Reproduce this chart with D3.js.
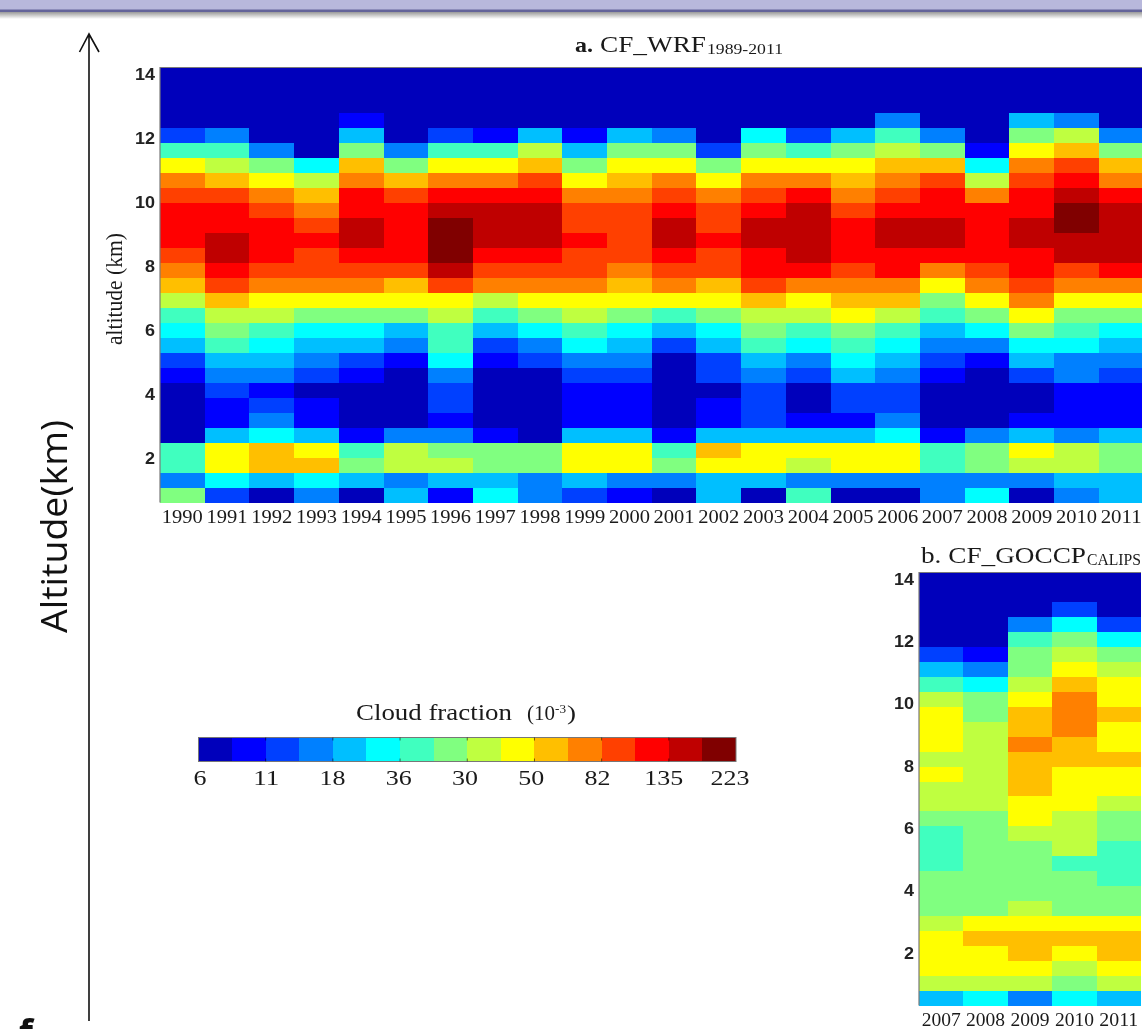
<!DOCTYPE html>
<html><head><meta charset="utf-8">
<style>
html,body{margin:0;padding:0;background:#fff;overflow:hidden}
svg{display:block;filter:blur(0.45px)}
.serif{font-family:"Liberation Serif",serif;fill:#1a1a1a}
.tick-y text{font-family:"Liberation Sans",sans-serif;font-weight:bold;font-size:16px;fill:#222}
</style>
<script src="https://cdn.jsdelivr.net/npm/d3@7/dist/d3.min.js"></script>
</head><body>
<svg id="chart" width="1142" height="1029"></svg>
<script>
const yearsA = d3.range(1990, 2012);
const yearsB = [2007, 2008, 2009, 2010, 2011];
const altitudeTicks = [14, 12, 10, 8, 6, 4, 2];
const legendLabels = ["6","11","18","36","30","50","82","135","223"];
const jetColours = ["#0000BB","#0000FF","#0040FF","#0080FF","#00BFFF","#00FFFF","#40FFBF","#80FF80",
                    "#BFFF40","#FFFF00","#FFBF00","#FF8000","#FF4000","#FF0000","#BF0000","#800000"];

// Colour class (0-15) of each cell, rows top to bottom, columns by year
const wrfClasses = [
[0,0,0,0,0,0,0,0,0,0,0,0,0,0,0,0,0,0,0,0,0,0],
[0,0,0,0,0,0,0,0,0,0,0,0,0,0,0,0,0,0,0,0,0,0],
[0,0,0,0,0,0,0,0,0,0,0,0,0,0,0,0,0,0,0,0,0,0],
[0,0,0,0,1,0,0,0,0,0,0,0,0,0,0,0,3,0,0,4,3,0],
[2,3,0,0,4,0,2,1,4,1,4,3,0,5,2,4,6,3,0,7,8,3],
[6,6,3,0,7,3,6,6,8,4,7,7,2,7,6,7,8,7,1,9,10,7],
[9,8,7,5,10,7,9,9,10,7,9,9,7,9,9,9,10,10,5,11,12,10],
[11,10,9,8,11,10,11,11,12,9,10,11,9,11,11,10,11,12,8,12,13,11],
[12,12,11,10,13,12,13,13,13,11,11,12,11,12,13,11,12,13,11,13,14,13],
[13,13,12,11,13,13,14,14,14,12,12,13,12,13,14,12,13,13,13,13,15,14],
[13,13,13,12,14,13,15,14,14,12,12,14,12,14,14,13,14,14,13,14,15,14],
[13,14,13,13,14,13,15,14,14,13,12,14,13,14,14,13,14,14,13,14,14,14],
[12,14,13,12,13,13,15,13,13,12,12,13,12,13,14,13,13,13,13,13,14,14],
[11,13,12,12,12,12,14,12,12,12,11,12,12,13,13,12,13,11,12,13,12,13],
[10,12,11,11,11,10,12,11,11,11,10,11,10,12,11,11,11,9,11,12,11,11],
[8,10,9,9,9,9,9,8,9,9,9,9,9,10,9,10,10,7,9,11,9,9],
[6,8,8,7,7,7,8,6,7,8,7,6,7,8,8,9,8,6,7,9,7,7],
[5,7,6,5,5,4,6,4,5,6,5,4,5,7,6,7,6,4,5,7,6,5],
[4,6,5,4,4,3,6,2,3,5,4,2,4,6,5,6,5,3,3,5,5,4],
[2,4,4,3,2,1,5,1,2,3,3,0,2,4,3,5,4,2,1,4,3,3],
[1,3,3,2,1,0,3,0,0,2,2,0,2,3,2,4,3,1,0,2,3,2],
[0,2,1,0,0,0,2,0,0,1,1,0,0,2,0,2,2,0,0,0,1,1],
[0,1,2,1,0,0,2,0,0,1,1,0,1,2,0,2,2,0,0,0,1,1],
[0,1,3,1,0,0,1,0,0,1,1,0,1,2,1,1,3,0,0,1,1,1],
[0,4,5,4,1,3,3,1,0,4,4,1,4,4,4,4,5,1,3,4,3,4],
[6,9,10,9,6,8,7,7,7,9,9,6,10,9,9,9,9,6,7,9,8,7],
[6,9,10,10,7,8,8,7,7,9,9,7,9,9,8,9,9,6,7,8,8,7],
[3,5,4,5,4,3,4,4,3,4,3,3,4,4,3,3,3,3,3,3,4,4],
[7,2,0,3,0,4,1,5,3,2,1,0,4,0,6,0,0,3,5,0,3,4]
];
const goccpClasses = [
[0,0,0,0,0],[0,0,0,0,0],[0,0,0,2,0],[0,0,3,5,2],[0,0,6,7,5],
[2,1,7,8,7],[4,3,7,9,8],[6,5,8,10,9],[8,7,9,11,9],[9,7,10,11,10],
[9,8,10,11,9],[9,8,11,10,9],[8,8,10,10,10],[9,8,10,9,9],[8,8,10,9,9],
[8,8,9,9,8],[7,7,9,8,7],[6,7,8,8,7],[6,7,7,8,6],[6,7,7,6,6],
[7,7,7,7,6],[7,7,7,7,7],[7,7,8,7,7],[8,9,9,9,9],[9,10,10,10,10],
[9,9,10,9,10],[9,9,9,8,9],[8,8,8,7,8],[4,5,3,5,4]
];

const svg = d3.select("#chart");
const colour = d3.scaleOrdinal(d3.range(16), jetColours);

// Text stretched to a measured width, as in the source figure
function label(str, x, y, size, width, opts = {}){
  return svg.append("text").attr("class","serif").attr("x",x).attr("y",y)
    .attr("font-size",size+"px").attr("textLength",width).attr("lengthAdjust","spacingAndGlyphs")
    .attr("font-family",opts.family||null).attr("font-weight",opts.weight||null).text(str);
}

// Window header strip
const defs = svg.append("defs");
const shade = defs.append("linearGradient").attr("id","shade").attr("x1",0).attr("x2",0).attr("y1",0).attr("y2",1);
shade.append("stop").attr("offset",0).attr("stop-color","#9a9a9a");
shade.append("stop").attr("offset",1).attr("stop-color","#ffffff");
svg.append("rect").attr("width",1142).attr("height",10).attr("fill","#b8b8dc");
svg.append("rect").attr("y",9.5).attr("width",1142).attr("height",2.5).attr("fill","#64649a");
svg.append("rect").attr("y",12).attr("width",1142).attr("height",7).attr("fill","url(#shade)");

function panel(cfg){
  const x = d3.scaleBand().domain(cfg.years).range([cfg.left, cfg.right]);
  const y = d3.scaleBand().domain(d3.range(cfg.rows.length)).range([cfg.top, cfg.bottom]);
  const alt = d3.scaleLinear().domain([14,2]).range(cfg.altRange);
  const g = svg.append("g");
  g.selectAll("g.row").data(cfg.rows).join("g").attr("class","row")
    .attr("transform",(d,i)=>`translate(0,${y(i)})`)
    .selectAll("rect").data(d=>d).join("rect")
      .attr("x",(d,i)=>x(cfg.years[i]))
      .attr("width",x.bandwidth()+0.4).attr("height",y.bandwidth()+0.4)
      .attr("fill",d=>colour(d))
      .attr("shape-rendering","crispEdges");
  g.append("path").attr("d",`M${cfg.left},${cfg.bottom}V${cfg.top}H${cfg.right}`)
    .attr("fill","none").attr("stroke","#7a7a7a").attr("stroke-width",1.2);
  const ay = g.append("g").attr("class","tick-y").attr("transform",`translate(${cfg.left},0)`)
    .call(d3.axisLeft(alt).tickValues(altitudeTicks).tickSize(0).tickPadding(5));
  ay.select(".domain").remove();
  ay.selectAll("text").attr("textLength",d=>String(d).length*10).attr("lengthAdjust","spacingAndGlyphs");
  const ax = g.append("g").attr("class","serif").attr("transform",`translate(0,${cfg.bottom})`)
    .call(d3.axisBottom(x).tickSize(0).tickPadding(8).tickFormat(d3.format("d")));
  ax.select(".domain").remove();
  ax.selectAll("text").attr("class","serif").attr("font-size","18px").attr("fill","#222")
    .attr("textLength",cfg.labelWidth).attr("lengthAdjust","spacingAndGlyphs");
}

panel({years:yearsA, rows:wrfClasses, left:160, right:1143.5, top:67.5, bottom:502.5,
       altRange:[74,458], labelWidth:41});
panel({years:yearsB, rows:goccpClasses, left:919, right:1141, top:572.5, bottom:1005.5,
       altRange:[579,953], labelWidth:39});

// Panel titles
label("a.", 575, 52, 21, 18, {family:"Liberation Sans", weight:"bold"});
label("CF_WRF", 600, 52, 23, 106);
label("1989-2011", 707, 54, 15, 76);
label("b. CF_GOCCP", 921, 563, 24, 165);
label("CALIPS", 1087, 565, 16, 54);

// Axis titles and arrow
svg.append("text").attr("class","serif").attr("transform","translate(122,289) rotate(-90)")
  .attr("text-anchor","middle").attr("font-size","24px").attr("textLength",112).attr("lengthAdjust","spacingAndGlyphs")
  .text("altitude (km)");
svg.append("text").attr("transform","translate(67,526.5) rotate(-90)").attr("text-anchor","middle")
  .attr("font-family","Open Sans").attr("font-size","36px").attr("fill","#111").attr("textLength",213)
  .attr("lengthAdjust","spacingAndGlyphs").text("Altitude(km)");
svg.append("path").attr("d","M89,1021V34M79.5,52L89,34L99,52").attr("fill","none").attr("stroke","#111").attr("stroke-width",1.6);
svg.append("text").attr("x",19).attr("y",1045).attr("font-family","Open Sans").attr("font-weight","bold")
  .attr("font-size","36px").attr("fill","#111").text("f");

// Colour bar
const barScale = d3.scaleLinear().domain([0,16]).range([198.5,736]);
const labelScale = d3.scaleLinear().domain([0,legendLabels.length-1]).range([200,730]);
const bar = svg.append("g");
bar.selectAll("rect").data(jetColours).join("rect")
  .attr("x",(d,i)=>barScale(i)).attr("y",737.5)
  .attr("width",barScale(1)-barScale(0)+0.4).attr("height",24)
  .attr("fill",d=>d).attr("shape-rendering","crispEdges");
bar.append("rect").attr("x",barScale(0)).attr("y",737.5).attr("width",barScale(16)-barScale(0)).attr("height",24)
  .attr("fill","none").attr("stroke","#777").attr("stroke-width",1);
bar.selectAll("line").data(d3.range(2,16,2)).join("line")
  .attr("x1",d=>barScale(d)).attr("x2",d=>barScale(d)).attr("y1",737.5).attr("y2",761.5)
  .attr("stroke","#000").attr("stroke-opacity",0.55).attr("stroke-dasharray","3 18");
bar.selectAll("text").data(legendLabels).join("text").attr("class","serif")
  .attr("x",(d,i)=>labelScale(i)).attr("y",785).attr("text-anchor","middle").attr("font-size","22px")
  .attr("textLength",d=>d.length*13).attr("lengthAdjust","spacingAndGlyphs").text(d=>d);
label("Cloud fraction", 356, 720, 24, 156);
label("(10", 527, 720, 21, 28);
label("-3", 555, 713, 13, 11);
label(")", 567, 720, 21, 9);
</script>
</body></html>
